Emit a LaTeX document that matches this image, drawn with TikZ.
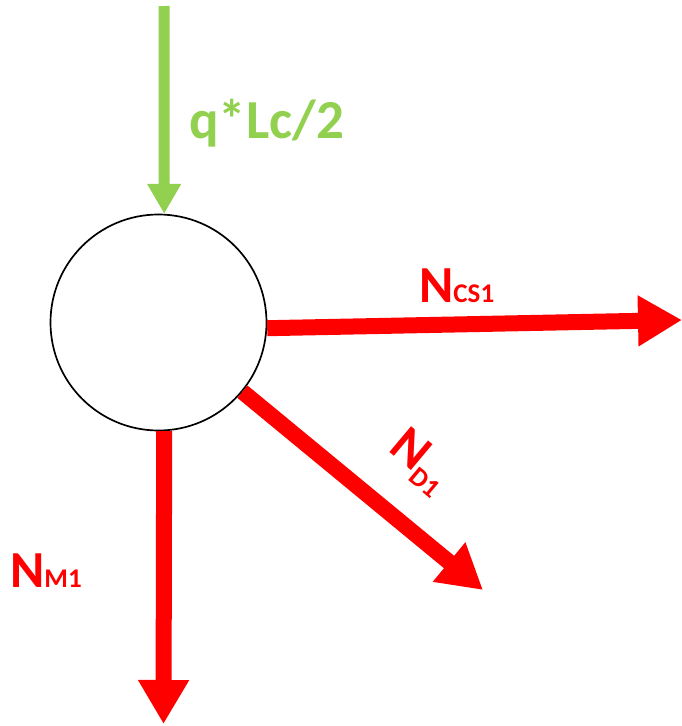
\documentclass[tikz,border=0pt]{standalone}
\usepackage{fontspec}
\setmainfont{Carlito}
\usetikzlibrary{arrows.meta}
\definecolor{load}{RGB}{146,208,80}
\definecolor{force}{RGB}{255,0,0}
\newcommand\idx[1]{{\fontsize{27}{27}\selectfont #1}}

\begin{document}
\begin{tikzpicture}[x=1pt,y=-1pt,
 member/.style={force,line width=16pt,-{Triangle[length=44pt,width=48pt]}},
 lbl/.style={force,font=\fontsize{52}{52}\selectfont\bfseries,inner sep=0pt}]
\useasboundingbox (0,0) rectangle (682,726);
\node[draw,circle,line width=1.7pt,minimum size=216pt,inner sep=0pt] (joint) at (158.5,322.5) {};
\coordinate (qtop) at (164,6);
\coordinate (csend) at (682,320);
\coordinate (dend) at (483,590);
\coordinate (mend) at (163.5,724);
\draw[load,line width=11pt,-{Triangle[length=30pt,width=32pt]}] (qtop) -- (joint.87);
\draw[member] (joint.-3) -- (csend);
\draw[member] (joint) -- (dend);
\draw[member] (joint.-87) -- (mend);
\node[load,font=\fontsize{55}{55}\selectfont\bfseries,inner sep=0pt,anchor=base west] (qlbl) at (189,138) {q*Lc/2};
\node[lbl,anchor=base west] (cslbl) at (419,302) {N\idx{CS1}};
\node[lbl,rotate=-40] (dlbl) at (420,462) {N\raisebox{-9pt}{\idx{D1}}};
\node[lbl,anchor=base west] (mlbl) at (10,587) {N\idx{M1}};
\end{tikzpicture}
\end{document}
